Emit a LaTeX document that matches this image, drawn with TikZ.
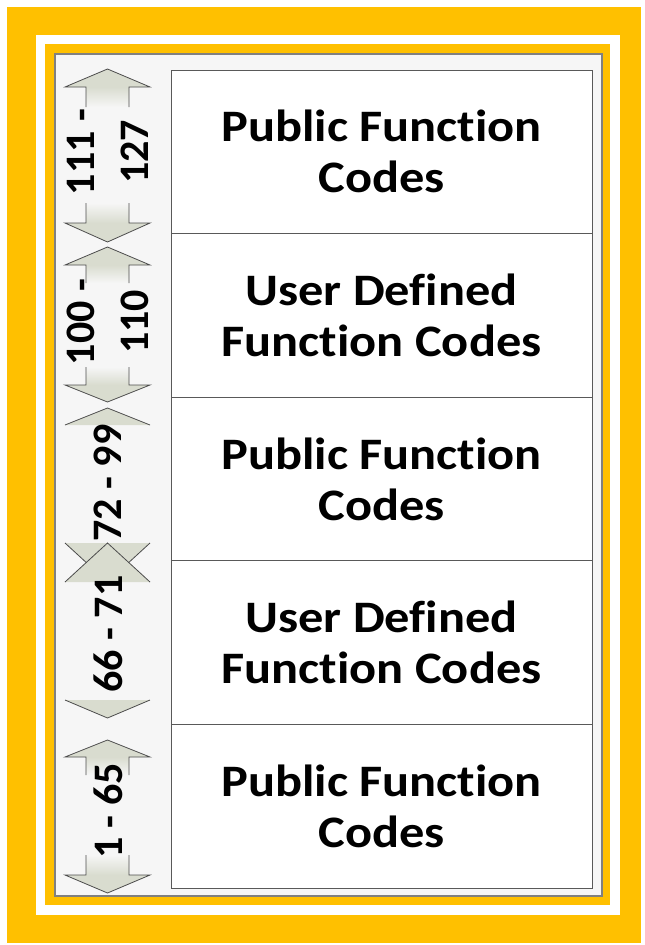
\documentclass[tikz,border=0pt]{standalone}
\usepackage{fontspec}
\setmainfont[Ligatures=NoCommon]{Carlito}
\newfontfamily\boxfont[Ligatures=NoCommon,FakeStretch=1.12]{Carlito}
\definecolor{frameyellow}{HTML}{FFC000}
\definecolor{arrowfill}{HTML}{D9DCCF}
\definecolor{panelgray}{HTML}{F6F6F6}
\tikzset{
	codebox/.style={draw=black!65, fill=white, line width=1pt, minimum width=421pt, minimum height=163.6pt,
		align=center, inner sep=0pt, font=\boxfont\fontsize{45}{51}\selectfont\bfseries},
	rangelabel/.style={rotate=90, align=center, inner sep=0pt, font=\fontsize{42}{54}\selectfont\bfseries},
	arrowedge/.style={draw=black!70, line width=0.8pt}
}
\begin{document}
\begin{tikzpicture}[x=1pt,y=-1pt]
	\useasboundingbox[fill=white] (0,0) rectangle (645,945);
	% frames
	\fill[frameyellow] (7,7) rectangle (641,943);
	\fill[white] (36,35) rectangle (620,915);
	\fill[frameyellow] (45,44) rectangle (610,905);
	\draw[fill=panelgray, draw=black!50, line width=2pt] (55,54) rectangle (602,896);

	% boxes
	\node[codebox] (pub1) at (381.5,151.8) {Public Function\\Codes};
	\node[codebox] (user1) at (381.5,315.4) {User Defined\\Function Codes};
	\node[codebox] (pub2) at (381.5,479.0) {Public Function\\Codes};
	\node[codebox] (user2) at (381.5,642.6) {User Defined\\Function Codes};
	\node[codebox] (pub3) at (381.5,806.2) {Public Function\\Codes};

	% arrow heads: tip/base/stub
	\foreach \tip/\base/\stub in {69/87/20, 242/223/20, 247/265/18, 402/385/18, 408/425/0,
			582/543/0, 543/582/0, 718/700/0, 740/757/18, 893/875/20}{
		\pgfmathsetmacro\send{\base+\stub*sign(\base-\tip)}
		\fill[arrowfill] (65,\base) -- (107.5,\tip) -- (150,\base) -- cycle;
		\ifnum\stub>0
			\shade[top color=arrowfill, bottom color=panelgray, shading angle={\base>\tip ? 0 : 180}] (86,\base) rectangle (129,\send);
			\draw[arrowedge] (86,\send) -- (86,\base) -- (65,\base) -- (107.5,\tip) -- (150,\base) -- (129,\base) -- (129,\send);
		\else
			\draw[arrowedge] (65,\base) -- (107.5,\tip) -- (150,\base);
		\fi
	}

	%labels
	\node[rangelabel] (r1) at (108,152) {111 -\\127};
	\node[rangelabel] (r2) at (108,322) {100 -\\110};
	\node[rangelabel] (r3) at (108,483) {72 - 99};
	\node[rangelabel] (r4) at (108,634) {66 - 71};
	\node[rangelabel] (r5) at (108,811) {1 - 65};
\end{tikzpicture}
\end{document}
